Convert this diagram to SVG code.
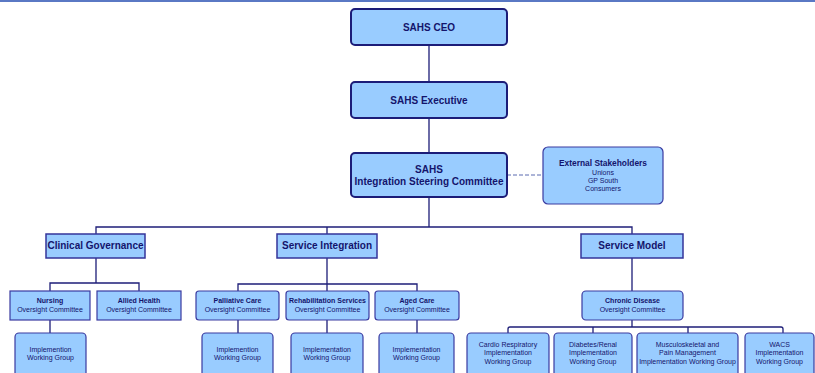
<svg xmlns="http://www.w3.org/2000/svg" width="815" height="373" viewBox="0 0 815 373">
  <style>
    .top { fill: #99ccff; stroke: #1c1c78; stroke-width: 2; }
    .lvl { fill: #99ccff; stroke: #34349a; stroke-width: 1.5; }
    .sub { fill: #99ccff; stroke: #3a3aa0; stroke-width: 1.2; }
    .wire { fill: none; stroke: #1e1e78; stroke-width: 1.3; }
    .dash { fill: none; stroke: #5a6ab0; stroke-width: 1; stroke-dasharray: 4 2; }
    text { font-family: "Liberation Sans", Arial, sans-serif; fill: #14146c; text-anchor: middle; }
    .big { font-size: 10px; font-weight: bold; }
    .mid { font-size: 8.4px; font-weight: bold; }
    .sb { font-size: 7px; font-weight: bold; }
    .sm { font-size: 7px; }
  </style>

  <!-- header rule -->
  <rect x="0" y="0" width="815" height="2" fill="#5a78c4"/>

  <g id="connectors">
    <path class="wire" d="M429,45 V82 M429,118 V153 M429,197 V227"/>
    <path class="wire" d="M96,234 V227 H632 V234 M327,227 V234"/>
    <path class="dash" d="M507,175 H543"/>
    <!-- Clinical Governance branch -->
    <path class="wire" d="M96,258 V283 M50,291 V283 H139 V291 M50,320 V333"/>
    <!-- Service Integration branch -->
    <path class="wire" d="M327,258 V291 M238,291 V284 H417 V291 M238,320 V333 M327,320 V333 M417,320 V333"/>
    <!-- Service Model branch -->
    <path class="wire" d="M632,258 V291 M632,320 V327"/>
    <path class="wire" d="M508,333 V329 Q508,327 510,327 H781 Q783,327 783,329 V333 M593,327 V333 M688,327 V333"/>
  </g>

  <g id="ceo">
    <rect class="top" x="351" y="9" width="156" height="36" rx="4"/>
    <text class="big" x="429" y="30.5">SAHS CEO</text>
  </g>
  <g id="executive">
    <rect class="top" x="351" y="82" width="156" height="36" rx="4"/>
    <text class="big" x="429" y="103.5">SAHS Executive</text>
  </g>
  <g id="steering">
    <rect class="top" x="351" y="153" width="156" height="44" rx="4"/>
    <text class="big" x="429" y="172.5">SAHS</text>
    <text class="big" x="429" y="185">Integration Steering Committee</text>
  </g>
  <g id="external">
    <rect class="sub" x="543" y="147" width="120" height="57" rx="5"/>
    <text class="mid" x="603" y="165.5">External Stakeholders</text>
    <text class="sm" x="603" y="174.5">Unions</text>
    <text class="sm" x="603" y="182.5">GP South</text>
    <text class="sm" x="603" y="190.5">Consumers</text>
  </g>

  <g id="clinical-governance">
    <rect class="lvl" x="46" y="234" width="99" height="24"/>
    <text class="big" x="95.5" y="248.5">Clinical Governance</text>
  </g>
  <g id="service-integration">
    <rect class="lvl" x="277" y="234" width="100" height="24"/>
    <text class="big" x="327" y="248.5">Service Integration</text>
  </g>
  <g id="service-model">
    <rect class="lvl" x="581" y="234" width="102" height="24"/>
    <text class="big" x="632" y="248.5">Service Model</text>
  </g>

  <g id="nursing">
    <rect class="sub" x="10" y="291" width="80" height="29"/>
    <text class="sb" x="50" y="303.2">Nursing</text>
    <text class="sm" x="50" y="311.5">Oversight Committee</text>
  </g>
  <g id="allied-health">
    <rect class="sub" x="97" y="291" width="84" height="29"/>
    <text class="sb" x="139" y="303.2">Allied Health</text>
    <text class="sm" x="139" y="311.5">Oversight Committee</text>
  </g>
  <g id="palliative">
    <rect class="sub" x="196" y="291" width="83" height="29" rx="3"/>
    <text class="sb" x="237.5" y="303.2">Palliative Care</text>
    <text class="sm" x="237.5" y="311.5">Oversight Committee</text>
  </g>
  <g id="rehabilitation">
    <rect class="sub" x="286" y="291" width="83" height="29" rx="3"/>
    <text class="sb" x="327.5" y="303.2">Rehabilitation Services</text>
    <text class="sm" x="327.5" y="311.5">Oversight Committee</text>
  </g>
  <g id="aged-care">
    <rect class="sub" x="375" y="291" width="84" height="29" rx="3"/>
    <text class="sb" x="417" y="303.2">Aged Care</text>
    <text class="sm" x="417" y="311.5">Oversight Committee</text>
  </g>
  <g id="chronic-disease">
    <rect class="sub" x="582" y="291" width="101" height="29" rx="4"/>
    <text class="sb" x="632.5" y="303.2">Chronic Disease</text>
    <text class="sm" x="632.5" y="311.5">Oversight Committee</text>
  </g>

  <g id="nursing-wg">
    <rect class="sub" x="15" y="333" width="71" height="50" rx="4"/>
    <text class="sm" x="50.5" y="351.5">Implemention</text>
    <text class="sm" x="50.5" y="359.5">Working Group</text>
  </g>
  <g id="palliative-wg">
    <rect class="sub" x="202" y="333" width="71" height="50" rx="4"/>
    <text class="sm" x="237.5" y="351.5">Implemention</text>
    <text class="sm" x="237.5" y="359.5">Working Group</text>
  </g>
  <g id="rehabilitation-wg">
    <rect class="sub" x="291" y="333" width="72" height="50" rx="4"/>
    <text class="sm" x="327" y="351.5">Implementation</text>
    <text class="sm" x="327" y="359.5">Working Group</text>
  </g>
  <g id="aged-care-wg">
    <rect class="sub" x="379" y="333" width="75" height="50" rx="4"/>
    <text class="sm" x="416.5" y="351.5">Implementation</text>
    <text class="sm" x="416.5" y="359.5">Working Group</text>
  </g>

  <g id="cardio-wg">
    <rect class="sub" x="467" y="333" width="82" height="50" rx="4"/>
    <text class="sm" x="508" y="346.5">Cardio Respiratory</text>
    <text class="sm" x="508" y="355">Implementation</text>
    <text class="sm" x="508" y="363.5">Working Group</text>
  </g>
  <g id="diabetes-wg">
    <rect class="sub" x="554" y="333" width="78" height="50" rx="4"/>
    <text class="sm" x="593" y="346.5">Diabetes/Renal</text>
    <text class="sm" x="593" y="355">Implementation</text>
    <text class="sm" x="593" y="363.5">Working Group</text>
  </g>
  <g id="musculoskeletal-wg">
    <rect class="sub" x="637" y="333" width="101" height="50" rx="4"/>
    <text class="sm" x="687.5" y="346.5">Musculoskeletal and</text>
    <text class="sm" x="687.5" y="355">Pain Management</text>
    <text class="sm" x="687.5" y="363.5">Implementation Working Group</text>
  </g>
  <g id="wacs-wg">
    <rect class="sub" x="745" y="333" width="69" height="50" rx="4"/>
    <text class="sm" x="779.5" y="346.5">WACS</text>
    <text class="sm" x="779.5" y="355">Implementation</text>
    <text class="sm" x="779.5" y="363.5">Working Group</text>
  </g>
</svg>
